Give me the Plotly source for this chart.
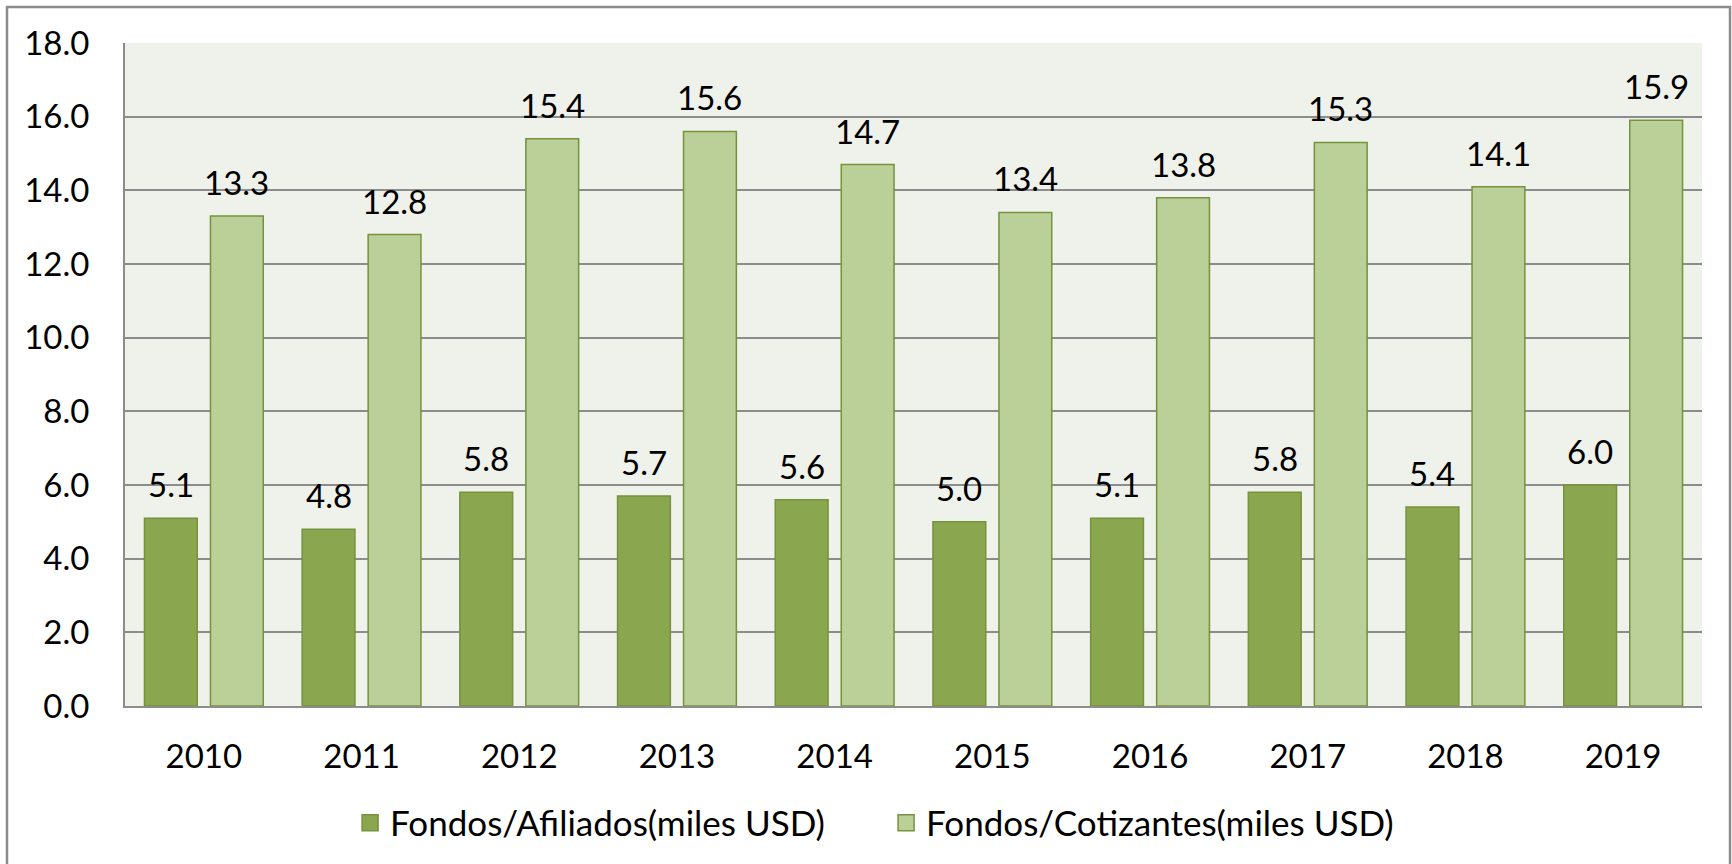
import plotly.graph_objects as go

years = ["2010", "2011", "2012", "2013", "2014", "2015", "2016", "2017", "2018", "2019"]
afiliados = [5.1, 4.8, 5.8, 5.7, 5.6, 5.0, 5.1, 5.8, 5.4, 6.0]
cotizantes = [13.3, 12.8, 15.4, 15.6, 14.7, 13.4, 13.8, 15.3, 14.1, 15.9]
name_af = "Fondos/Afiliados(miles USD)"
name_co = "Fondos/Cotizantes(miles USD)"

DARK = "#8AA64F"
LIGHT = "#BBD098"
EDGE = "#76923C"
FONT = "Lato"
FS = 33

W, H = 1732, 864
L, R, T, B = 125, 30, 43, 158
pw, ph = W - L - R, H - T - B

fig = go.Figure()
fig.add_trace(go.Bar(x=years, y=afiliados, name=name_af, marker=dict(color=DARK, line=dict(color=EDGE, width=1.5)),
                     showlegend=False, hoverinfo="skip"))
fig.add_trace(go.Bar(x=years, y=cotizantes, name=name_co, marker=dict(color=LIGHT, line=dict(color=EDGE, width=1.5)),
                     showlegend=False, hoverinfo="skip"))
# legend entries
fig.add_trace(go.Scatter(x=[years[0]], y=[None], mode="markers", name=name_af, hoverinfo="skip",
                         marker=dict(symbol="square", size=19, color=DARK, line=dict(color=EDGE, width=1.5))))
fig.add_trace(go.Scatter(x=[years[0]], y=[None], mode="markers", name=name_co, hoverinfo="skip",
                         marker=dict(symbol="square", size=19, color=LIGHT, line=dict(color=EDGE, width=1.5))))

slot = pw / len(years) * (1 - 0.163) / 2
annotations = []
for vals, sh in ((afiliados, -slot / 2), (cotizantes, slot / 2)):
    for i, v in enumerate(vals):
        annotations.append(dict(x=i, y=v, xref="x", yref="y", text=f"{v:.1f}", showarrow=False,
                                xshift=sh, yshift=12, yanchor="bottom",
                                font=dict(family=FONT, size=FS, color="#000")))

def px_x(p):
    return (p - L) / pw

def px_y(p):
    return (H - B - p) / ph

fig.update_layout(
    width=W, height=H,
    margin=dict(l=L, r=R, t=T, b=B, autoexpand=False),
    paper_bgcolor="white",
    plot_bgcolor="#EFF2EA",
    barmode="group",
    bargap=0.163,
    bargroupgap=0.2,
    font=dict(family=FONT, size=FS, color="#000"),
    annotations=annotations,
    legend=dict(orientation="h", xref="container", yref="container", x=0.5116, y=1 - 823 / H,
                xanchor="center", yanchor="middle", font=dict(family=FONT, size=35), itemclick=False,
                itemdoubleclick=False, entrywidth=491),
    shapes=[dict(type="rect", xref="paper", yref="paper", x0=px_x(7), x1=px_x(1730), y0=px_y(875), y1=px_y(7),
                 line=dict(color="#8C8C8C", width=2.5), fillcolor="rgba(0,0,0,0)", layer="below")],
)
fig.update_xaxes(type="category", range=[-0.5, 9.5], automargin=False, showgrid=False, showline=True,
                 linecolor="#8C8C8C", linewidth=2, ticks="", ticklabelstandoff=20,
                 tickfont=dict(family=FONT, size=FS))
fig.update_yaxes(range=[0, 18], dtick=2, tickformat=".1f", automargin=False, showgrid=True,
                 gridcolor="#8C8C8C", gridwidth=2, showline=True, linecolor="#8C8C8C", linewidth=2,
                 zeroline=False, ticks="", ticklabelstandoff=27, tickfont=dict(family=FONT, size=FS))

fig.write_html("out.html", config={"displayModeBar": False},
               post_script="document.body.style.margin='0';document.body.style.overflow='hidden';")
